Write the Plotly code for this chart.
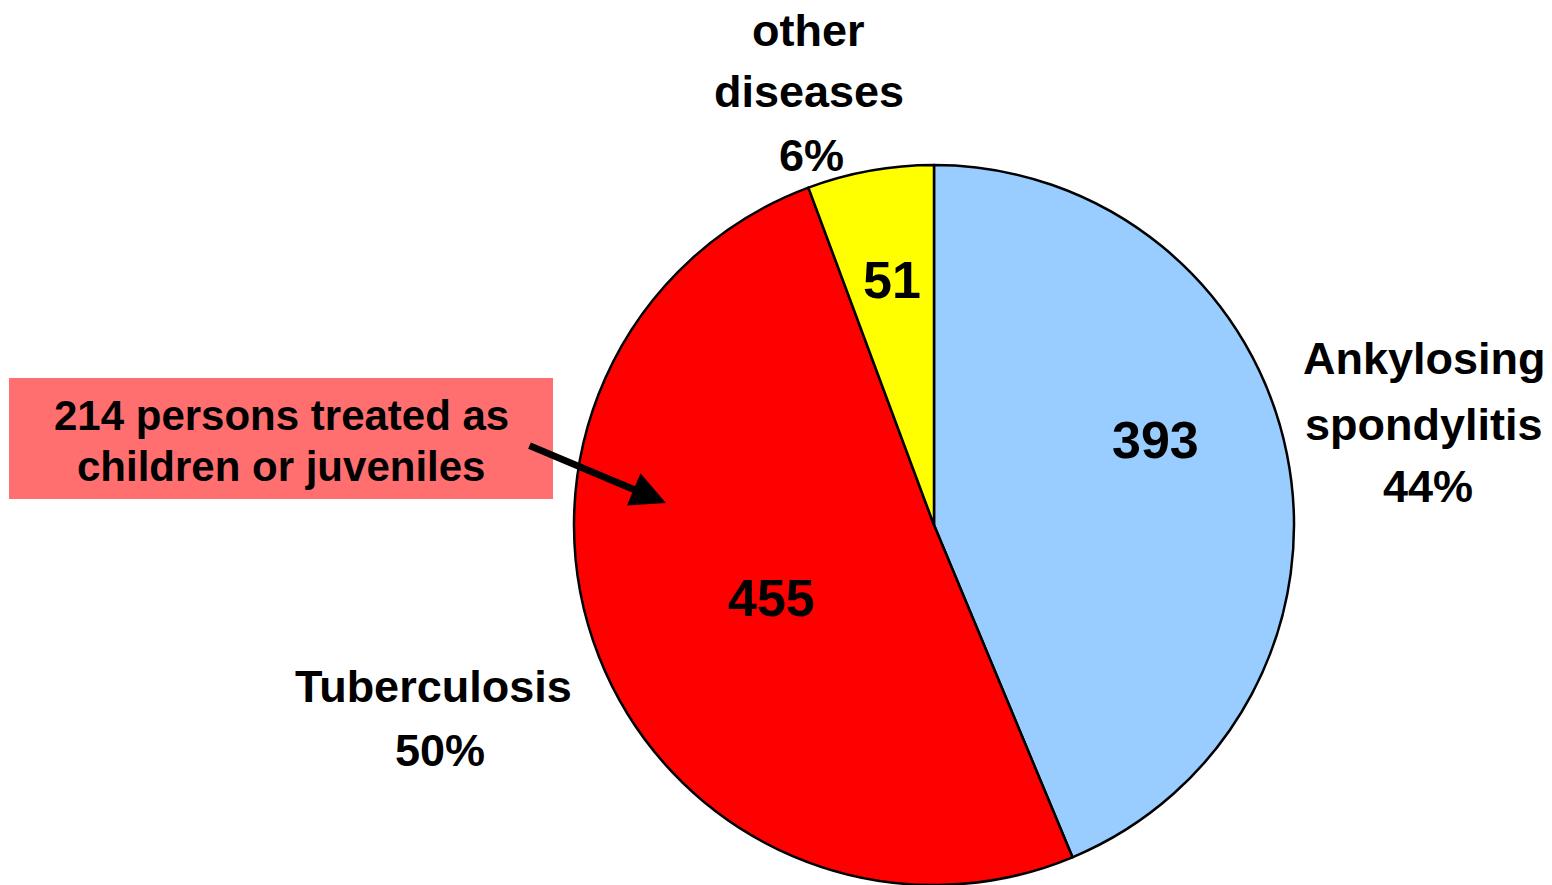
import plotly.graph_objects as go

# The page adds an 8px body margin; build the figure 8px smaller and
# place everything using reference-pixel coordinates shifted by that offset.
OFF = 8
W, H = 1552 - OFF, 885 - OFF

categories = ["Ankylosing spondylitis", "Tuberculosis", "other diseases"]
values = [393, 455, 51]
percent_labels = ["44%", "50%", "6%"]
slice_colors = ["#99CCFF", "#FF0000", "#FFFF00"]

label_lines = {
    "Ankylosing spondylitis": ["Ankylosing", "spondylitis", "44%"],
    "Tuberculosis": ["Tuberculosis", "50%"],
    "other diseases": ["other", "diseases", "6%"],
}
callout_lines = ["214 persons treated as", "children or juveniles"]

FONT = "Liberation Sans, Arial, sans-serif"

def px(x):
    return (x - OFF) / W

def py(y):
    return 1 - (y - OFF) / H

fig = go.Figure()
fig.add_trace(go.Pie(
    labels=categories,
    values=values,
    sort=False,
    direction="clockwise",
    rotation=0,
    marker=dict(colors=slice_colors, line=dict(color="black", width=2.5)),
    textinfo="none",
    showlegend=False,
    hoverinfo="label+value+percent",
    domain=dict(x=[px(574), px(1294)], y=[py(885), py(165)]),
))

annotations = []

# slice value labels
value_pos = [(1155, 440), (771, 598), (892, 280)]
for v, (x, y) in zip(values, value_pos):
    annotations.append(dict(
        x=px(x), y=py(y), xref="paper", yref="paper", text=str(v),
        showarrow=False, xanchor="center", yanchor="middle",
        font=dict(family=FONT, size=52, color="black", weight="bold"),
    ))

positions = {
    "Ankylosing spondylitis": [(1424, 358), (1424, 424), (1428, 487)],
    "Tuberculosis": [(434, 686), (440, 750)],
    "other diseases": [(809, 30), (809, 92), (812, 155)],
}
for cat in categories:
    for line, (x, y) in zip(label_lines[cat], positions[cat]):
        annotations.append(dict(
            x=px(x), y=py(y), xref="paper", yref="paper", text=line,
            showarrow=False, xanchor="center", yanchor="middle",
            font=dict(family=FONT, size=45, color="black", weight="bold"),
        ))

for line, y in zip(callout_lines, [415, 467]):
    annotations.append(dict(
        x=px(281), y=py(y), xref="paper", yref="paper", text=line,
        showarrow=False, xanchor="center", yanchor="middle",
        font=dict(family=FONT, size=42, color="black", weight="bold"),
    ))

# arrow
annotations.append(dict(
    x=px(666), y=py(503), xref="paper", yref="paper", text="",
    showarrow=True, ax=-138, ay=-58, axref="pixel", ayref="pixel",
    arrowhead=2, arrowsize=1, arrowwidth=7, arrowcolor="black",
))

fig.update_layout(
    width=W, height=H,
    margin=dict(l=0, r=0, t=0, b=0),
    paper_bgcolor="white", plot_bgcolor="white",
    annotations=annotations,
    shapes=[dict(type="rect", xref="paper", yref="paper",
                 x0=px(9), x1=px(553), y0=py(499), y1=py(378),
                 fillcolor="#FF6F6F", line=dict(width=0), layer="below")],
)

fig.write_html("out.html")
